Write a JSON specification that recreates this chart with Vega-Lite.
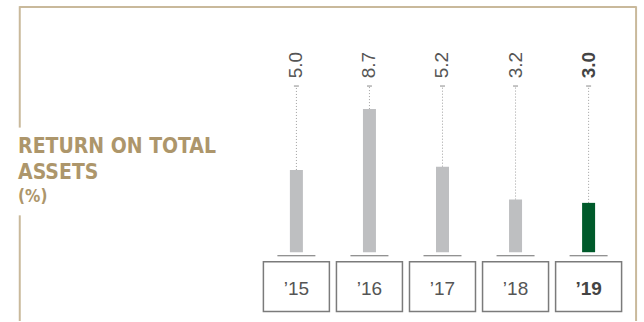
{
  "$schema": "https://vega.github.io/schema/vega-lite/v6.json",
  "width": 644,
  "height": 322,
  "padding": 0,
  "autosize": {"type": "fit", "contains": "padding"},
  "background": "white",
  "config": {"view": {"stroke": null}},
  "data": {"values": [
    {"year": 2015, "label": "’15", "value": 5.0},
    {"year": 2016, "label": "’16", "value": 8.7},
    {"year": 2017, "label": "’17", "value": 5.2},
    {"year": 2018, "label": "’18", "value": 3.2},
    {"year": 2019, "label": "’19", "value": 3.0}
  ]},
  "layer": [
    {
      "data": {"values": [{}]},
      "mark": {"type": "rule", "color": "#C9B99B", "strokeWidth": 2},
      "encoding": {
        "x": {"datum": 2011.213, "type": "quantitative", "scale": {"domain": [2011.011, 2019.69], "nice": false, "zero": false}, "axis": null},
        "x2": {"datum": 2019.65},
        "y": {"datum": 14.909, "type": "quantitative", "scale": {"domain": [-4.182, 15.333], "nice": false, "zero": false}, "axis": null}
      }
    },
    {
      "data": {"values": [{}]},
      "mark": {"type": "rule", "color": "#C9B99B", "strokeWidth": 2},
      "encoding": {
        "x": {"datum": 2011.213, "type": "quantitative", "scale": {"domain": [2011.011, 2019.69], "nice": false, "zero": false}, "axis": null},
        "y": {"datum": 14.96, "type": "quantitative", "scale": {"domain": [-4.182, 15.333], "nice": false, "zero": false}, "axis": null},
        "y2": {"datum": 7.576}
      }
    },
    {
      "data": {"values": [{}]},
      "mark": {"type": "rule", "color": "#C9B99B", "strokeWidth": 2},
      "encoding": {
        "x": {"datum": 2011.213, "type": "quantitative", "scale": {"domain": [2011.011, 2019.69], "nice": false, "zero": false}, "axis": null},
        "y": {"datum": 2.242, "type": "quantitative", "scale": {"domain": [-4.182, 15.333], "nice": false, "zero": false}, "axis": null},
        "y2": {"datum": -4.182}
      }
    },
    {
      "data": {"values": [{}]},
      "mark": {"type": "rule", "color": "#C9B99B", "strokeWidth": 2},
      "encoding": {
        "x": {"datum": 2019.65, "type": "quantitative", "scale": {"domain": [2011.011, 2019.69], "nice": false, "zero": false}, "axis": null},
        "y": {"datum": 14.96, "type": "quantitative", "scale": {"domain": [-4.182, 15.333], "nice": false, "zero": false}, "axis": null},
        "y2": {"datum": -4.182}
      }
    },
    {
      "data": {"values": [{}]},
      "mark": {"type": "text", "text": "RETURN ON TOTAL", "font": "DejaVu Sans Condensed, DejaVu Sans, sans-serif", "fontWeight": "bold", "fontSize": 21, "align": "left", "baseline": "alphabetic", "color": "#AD966B"},
      "encoding": {
        "x": {"datum": 2011.19, "type": "quantitative", "scale": {"domain": [2011.011, 2019.69], "nice": false, "zero": false}, "axis": null},
        "y": {"datum": 6.042, "type": "quantitative", "scale": {"domain": [-4.182, 15.333], "nice": false, "zero": false}, "axis": null}
      }
    },
    {
      "data": {"values": [{}]},
      "mark": {"type": "text", "text": "ASSETS", "font": "DejaVu Sans Condensed, DejaVu Sans, sans-serif", "fontWeight": "bold", "fontSize": 21, "align": "left", "baseline": "alphabetic", "color": "#AD966B"},
      "encoding": {
        "x": {"datum": 2011.19, "type": "quantitative", "scale": {"domain": [2011.011, 2019.69], "nice": false, "zero": false}, "axis": null},
        "y": {"datum": 4.47, "type": "quantitative", "scale": {"domain": [-4.182, 15.333], "nice": false, "zero": false}, "axis": null}
      }
    },
    {
      "data": {"values": [{}]},
      "mark": {"type": "text", "text": "(%)", "font": "DejaVu Sans Condensed, DejaVu Sans, sans-serif", "fontWeight": "bold", "fontSize": 17, "align": "left", "baseline": "alphabetic", "color": "#AD966B"},
      "encoding": {
        "x": {"datum": 2011.19, "type": "quantitative", "scale": {"domain": [2011.011, 2019.69], "nice": false, "zero": false}, "axis": null},
        "y": {"datum": 3.061, "type": "quantitative", "scale": {"domain": [-4.182, 15.333], "nice": false, "zero": false}, "axis": null}
      }
    },
    {
      "mark": {"type": "bar", "width": 66, "fill": "white", "stroke": "#7B7B7B", "strokeWidth": 1.5},
      "encoding": {
        "x": {"field": "year", "type": "quantitative", "scale": {"domain": [2011.011, 2019.69], "nice": false, "zero": false}, "axis": null},
        "y": {"datum": -0.576, "type": "quantitative", "scale": {"domain": [-4.182, 15.333], "nice": false, "zero": false}, "axis": null},
        "y2": {"datum": -3.606}
      }
    },
    {
      "mark": {"type": "tick", "orient": "horizontal", "size": 38, "thickness": 1, "color": "#6E6E6E", "opacity": 1},
      "encoding": {
        "x": {"field": "year", "type": "quantitative", "scale": {"domain": [2011.011, 2019.69], "nice": false, "zero": false}, "axis": null},
        "y": {"datum": -0.212, "type": "quantitative", "scale": {"domain": [-4.182, 15.333], "nice": false, "zero": false}, "axis": null}
      }
    },
    {
      "transform": [{"filter": "datum.year != 2019"}],
      "mark": {"type": "text", "font": "Liberation Sans, Arial, sans-serif", "fontSize": 19, "align": "center", "baseline": "middle", "color": "#555555"},
      "encoding": {
        "x": {"field": "year", "type": "quantitative", "scale": {"domain": [2011.011, 2019.69], "nice": false, "zero": false}, "axis": null},
        "y": {"datum": -2.242, "type": "quantitative", "scale": {"domain": [-4.182, 15.333], "nice": false, "zero": false}, "axis": null},
        "text": {"field": "label", "type": "nominal"}
      }
    },
    {
      "transform": [{"filter": "datum.year == 2019"}],
      "mark": {"type": "text", "font": "Liberation Sans, Arial, sans-serif", "fontSize": 19, "fontWeight": "bold", "align": "center", "baseline": "middle", "color": "#444444"},
      "encoding": {
        "x": {"field": "year", "type": "quantitative", "scale": {"domain": [2011.011, 2019.69], "nice": false, "zero": false}, "axis": null},
        "y": {"datum": -2.242, "type": "quantitative", "scale": {"domain": [-4.182, 15.333], "nice": false, "zero": false}, "axis": null},
        "text": {"field": "label", "type": "nominal"}
      }
    },
    {
      "mark": {"type": "rule", "color": "#A0A0A0", "strokeWidth": 1, "strokeDash": [1, 2]},
      "encoding": {
        "x": {"field": "year", "type": "quantitative", "scale": {"domain": [2011.011, 2019.69], "nice": false, "zero": false}, "axis": null},
        "y": {"field": "value", "type": "quantitative", "scale": {"domain": [-4.182, 15.333], "nice": false, "zero": false}, "axis": null},
        "y2": {"datum": 10.103}
      }
    },
    {
      "mark": {"type": "tick", "orient": "horizontal", "size": 5, "thickness": 1, "color": "#8A8A8A", "opacity": 1},
      "encoding": {
        "x": {"field": "year", "type": "quantitative", "scale": {"domain": [2011.011, 2019.69], "nice": false, "zero": false}, "axis": null},
        "y": {"datum": 10.103, "type": "quantitative", "scale": {"domain": [-4.182, 15.333], "nice": false, "zero": false}, "axis": null}
      }
    },
    {
      "mark": {"type": "bar", "width": 13},
      "encoding": {
        "x": {"field": "year", "type": "quantitative", "scale": {"domain": [2011.011, 2019.69], "nice": false, "zero": false}, "axis": null},
        "y": {"field": "value", "type": "quantitative", "scale": {"domain": [-4.182, 15.333], "nice": false, "zero": false}, "axis": null},
        "y2": {"datum": 0},
        "color": {"condition": {"test": "datum.year == 2019", "value": "#005A2B"}, "value": "#BEBFC1"}
      }
    },
    {
      "transform": [{"filter": "datum.year != 2019"}],
      "mark": {"type": "text", "font": "Liberation Sans, Arial, sans-serif", "fontSize": 19, "angle": 270, "align": "left", "baseline": "middle", "color": "#555555"},
      "encoding": {
        "x": {"field": "year", "type": "quantitative", "scale": {"domain": [2011.011, 2019.69], "nice": false, "zero": false}, "axis": null},
        "y": {"datum": 10.576, "type": "quantitative", "scale": {"domain": [-4.182, 15.333], "nice": false, "zero": false}, "axis": null},
        "text": {"field": "value", "type": "quantitative", "format": ".1f"}
      }
    },
    {
      "transform": [{"filter": "datum.year == 2019"}],
      "mark": {"type": "text", "font": "Liberation Sans, Arial, sans-serif", "fontSize": 19, "fontWeight": "bold", "angle": 270, "align": "left", "baseline": "middle", "color": "#444444"},
      "encoding": {
        "x": {"field": "year", "type": "quantitative", "scale": {"domain": [2011.011, 2019.69], "nice": false, "zero": false}, "axis": null},
        "y": {"datum": 10.576, "type": "quantitative", "scale": {"domain": [-4.182, 15.333], "nice": false, "zero": false}, "axis": null},
        "text": {"field": "value", "type": "quantitative", "format": ".1f"}
      }
    }
  ]
}
